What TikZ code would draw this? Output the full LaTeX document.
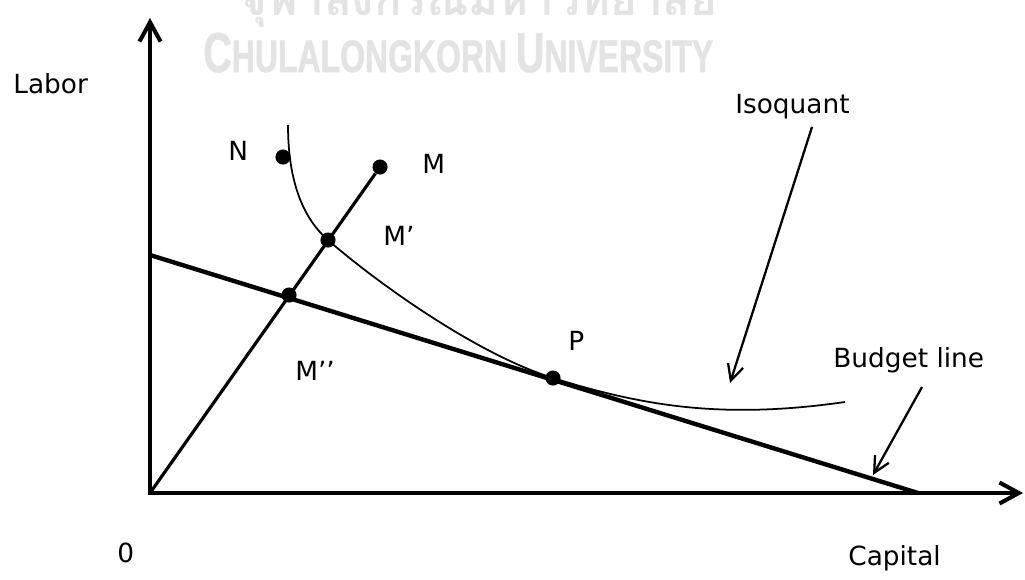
\documentclass[tikz,border=0pt]{standalone}
\usepackage{fontspec}
\setmainfont{DejaVu Sans}
\newfontfamily\thaiwm[Script=Thai]{Loma}
\newfontfamily\latinwm[FakeStretch=0.7,FakeBold=1.2]{Liberation Sans}
\usetikzlibrary{arrows.meta}

\begin{document}
\begin{tikzpicture}[x=.02cm,y=-.02cm,
  axis/.style={line width=2.3pt,{Straight Barb[length=11pt,width=12pt]}-{Straight Barb[length=11pt,width=12pt]}},
  dot/.style={circle,fill,inner sep=0pt,minimum size=8.6pt},
  lbl/.style={anchor=base west,inner sep=0pt,font=\fontsize{15}{18}\selectfont},
  pointer/.style={line width=1.3pt,-{Straight Barb[length=9pt,width=9pt]}},
  wm/.style={text=black!11,inner sep=0pt,anchor=base west}]
  \useasboundingbox (0,0) rectangle (1025,579);
  \node[wm,font=\thaiwm\bfseries\fontsize{26}{28}\selectfont] (wmth) at (240,15) {จุฬาลงกรณ์มหาวิทยาลัย};
  \node[wm,font=\latinwm\bfseries] (wmen) at (203,72) {\fontsize{32}{32}\selectfont C\fontsize{26}{26}\selectfont HULALONGKORN \fontsize{32}{32}\selectfont U\fontsize{26}{26}\selectfont NIVERSITY};
  \coordinate (O) at (150,493);
  \coordinate (ytop) at (150,18);
  \coordinate (xend) at (1023,493);
  \draw[axis] (ytop) -- (O) -- (xend);
  \coordinate (B0) at (150,255);
  \coordinate (B1) at (918,493);
  \draw[line width=2.5pt] (B0) -- (B1);
  \node[dot] (N) at (283,157) {};
  \node[dot] (M) at (380,167) {};
  \node[dot] (M1) at (328,240) {};
  \node[dot] (M2) at (289,295) {};
  \node[dot] (P) at (553,378) {};
  \draw[line width=1.8pt] (O) -- (M);
  \draw[line width=1pt] (288,125) .. controls (288,185) and (305,220) .. (M1.center)
    .. controls (370,277) and (473,353) .. (P.center)
    .. controls (640,405) and (720,420) .. (845,402);
  \node[lbl] (labor) at (13,93) {Labor};
  \node[lbl] (Nl) at (228,160) {N};
  \node[lbl] (Ml) at (422,173) {M};
  \node[lbl] (M1l) at (383,245) {M’};
  \node[lbl] (M2l) at (295,380) {M’’};
  \node[lbl] (Pl) at (568,350) {P};
  \node[lbl] (isol) at (735,113) {Isoquant};
  \node[lbl] (budl) at (833,367) {Budget line};
  \node[lbl] (zero) at (117,562) {0};
  \node[lbl] (capl) at (848,565) {Capital};
  \coordinate (isotail) at (812,127);
  \coordinate (isotip) at (730,383);
  \draw[pointer] (isotail) -- (isotip);
  \coordinate (budtail) at (922,387);
  \coordinate (budtip) at (873,475);
  \draw[pointer] (budtail) -- (budtip);
\end{tikzpicture}
\end{document}
